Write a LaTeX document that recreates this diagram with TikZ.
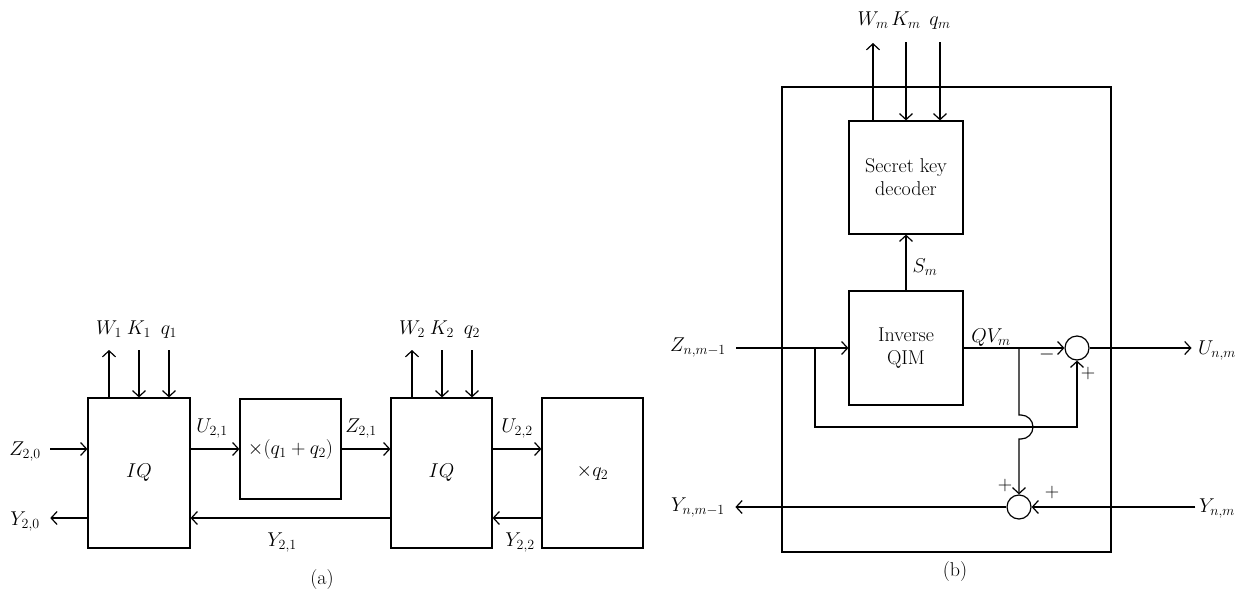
\RequirePackage{fix-cm}
\documentclass[tikz,border=0pt]{standalone}
\usetikzlibrary{arrows.meta,calc}
\begin{document}
\begin{tikzpicture}[x=1pt,y=-1pt,line width=1.2pt,
  >={Straight Barb[length=6pt,width=13pt]},
  blk/.style={draw,rectangle,inner sep=0pt,align=center},
  lab/.style={inner sep=0pt,anchor=base},
  summer/.style={draw,circle,minimum size=24pt,inner sep=0pt},
  sgn/.style={inner sep=0pt}]
\fontsize{20}{23}\selectfont
\useasboundingbox (0,0) rectangle (1250,592);
% ---------------- panel (a)
\coordinate (rt) at (0,449);
\coordinate (rb) at (0,518);
\node[blk,minimum width=102,minimum height=150] (iq1) at (139,473) {$IQ$};
\node[blk,minimum width=101,minimum height=100] (mul) at (290.5,449) {$\times(q_1+q_2)$};
\node[blk,minimum width=101,minimum height=150] (iq2) at (441.5,473) {$IQ$};
\node[blk,minimum width=101,minimum height=150] (mq2) at (592.5,473) {$\times q_2$};
% labels
\node[lab] (lz20) at (25,455) {$Z_{2,0}$};
\node[lab] (ly20) at (25,525) {$Y_{2,0}$};
\node[lab] (lu21) at (212,432) {$U_{2,1}$};
\node[lab] (lz21) at (361,432) {$Z_{2,1}$};
\node[lab] (lu22) at (517,432) {$U_{2,2}$};
\node[lab] (ly21) at (282,546) {$Y_{2,1}$};
\node[lab] (ly22) at (520,546) {$Y_{2,2}$};
\node[lab] (w1) at (109,334) {$W_1$};
\node[lab] (k1) at (139,334) {$K_1$};
\node[lab] (q1) at (169,334) {$q_1$};
\node[lab] (w2) at (412,334) {$W_2$};
\node[lab] (k2) at (442,334) {$K_2$};
\node[lab] (q2) at (472,334) {$q_2$};
\node[lab] (capa) at (322,584) {(a)};
% connectors
\draw[->] ([xshift=9pt]lz20.east |- rt) -- (iq1.west |- rt);
\draw[->] (iq1.east |- rt) -- (mul.west |- rt);
\draw[->] (mul.east |- rt) -- (iq2.west |- rt);
\draw[->] (iq2.east |- rt) -- (mq2.west |- rt);
\draw[->] (mq2.west |- rb) -- (iq2.east |- rb);
\draw[->] (iq2.west |- rb) -- (iq1.east |- rb);
\draw[->] (iq1.west |- rb) -- ([xshift=10pt]ly20.east |- rb);
\draw[->] (iq1.north -| w1) -- ([yshift=-16pt]w1.base);
\draw[->] ([yshift=-16pt]k1.base) -- (iq1.north -| k1);
\draw[->] ([yshift=-16pt]q1.base) -- (iq1.north -| q1);
\draw[->] (iq2.north -| w2) -- ([yshift=-16pt]w2.base);
\draw[->] ([yshift=-16pt]k2.base) -- (iq2.north -| k2);
\draw[->] ([yshift=-16pt]q2.base) -- (iq2.north -| q2);
% ---------------- panel (b)
\node[draw,minimum width=329,minimum height=465,inner sep=0pt] (outer) at (946.5,319.5) {};
\node[blk,minimum width=114,minimum height=113] (skd) at (906,177.5) {Secret key\\decoder};
\node[blk,minimum width=114,minimum height=114] (qim) at (906,348) {Inverse\\QIM};
\node[summer] (s1) at (1077,348) {};
\node[summer] (s2) at (1019,507) {};
\node[lab] (wm) at (873,25) {$W_m$};
\node[lab] (km) at (906,25) {$K_m$};
\node[lab] (qm) at (940,25) {$q_m$};
\node[lab] (sm) at (925,272) {$S_m$};
\node[lab] (qvm) at (991,342) {$QV_m$};
\node[lab] (lznm) at (698,351) {$Z_{n,m-1}$};
\node[lab] (lynm1) at (698,511) {$Y_{n,m-1}$};
\node[lab] (lunm) at (1217,354) {$U_{n,m}$};
\node[lab] (lynm) at (1217,512) {$Y_{n,m}$};
\node[sgn] (m1) at (1047,354) {$-$};
\node[sgn] (p1) at (1088,373) {$+$};
\node[sgn] (p2) at (1005,485) {$+$};
\node[sgn] (p3) at (1052,492) {$+$};
\node[lab] (capb) at (955,576) {(b)};
\coordinate (b1) at (815,348);
\coordinate (b1d) at (815,427);
\coordinate (b2) at (1019,348);
\coordinate (j1) at (1019,415);
\coordinate (j2) at (1019,439);
% connectors
\draw[->] ([xshift=10pt]lznm.east |- qim.west) -- (qim.west);
\draw[->] (b1) -- (b1d) -- (b1d -| s1) -- (s1.south);
\draw[->] (qim.east) -- (s1.west);
\draw[->] (b2) -- (j1) -- ++(2,0) arc (-90:90:12) -- (j2) -- (s2.north);
\draw[->] (s1.east) -- ([xshift=-6pt]lunm.west |- s1);
\draw[->] ([xshift=-3pt]lynm.west |- s2) -- (s2.east);
\draw[->] (s2.west) -- ([xshift=10pt]lynm1.east |- s2);
\draw[->] (qim.north) -- (skd.south);
\draw[->] (skd.north -| wm) -- ([yshift=-18pt]wm.base);
\draw[->] ([yshift=-17pt]km.base) -- (skd.north -| km);
\draw[->] ([yshift=-17pt]qm.base) -- (skd.north -| qm);
\end{tikzpicture}
\end{document}
